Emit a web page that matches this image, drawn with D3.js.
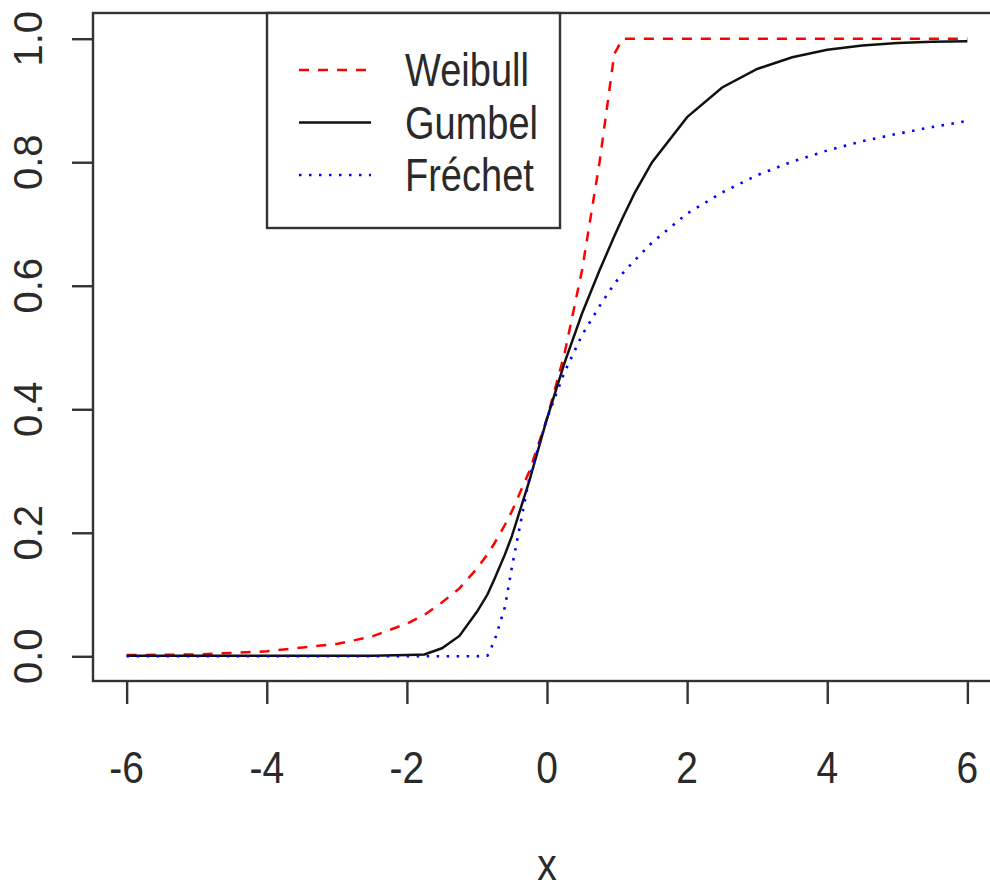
<!DOCTYPE html>
<html>
<head>
<meta charset="utf-8">
<script src="https://cdn.jsdelivr.net/npm/d3@7"></script>
<style>
  body { margin: 0; background: #fff; }
  text { font-family: "Liberation Sans", Arial, sans-serif; fill: #2a2a2a; }
</style>
</head>
<body>
<svg id="chart" width="990" height="892"></svg>
<script>
// values
var xs = [-6, -5, -4, -3, -2.5, -2, -1.75, -1.5, -1.25, -1, -0.85, -0.75, -0.6, -0.5, -0.25,
          0, 0.25, 0.5, 0.75, 0.96, 1.08, 1.25, 1.5, 2, 2.5, 3, 3.5, 4, 4.5, 5, 5.5, 6];

var weibull = [0.002, 0.003, 0.008, 0.02, 0.032, 0.053, 0.067, 0.087, 0.11, 0.142, 0.165, 0.183, 0.213, 0.235, 0.30,
               0.385, 0.49, 0.625, 0.80, 0.975, 1, 1, 1, 1, 1, 1, 1, 1, 1, 1, 1, 1];

var gumbel = [0.001, 0.001, 0.001, 0.001, 0.001, 0.002, 0.003, 0.013, 0.033, 0.072, 0.10, 0.125, 0.165, 0.195, 0.285,
              0.385, 0.475, 0.555, 0.625, 0.68, 0.71, 0.75, 0.80, 0.873, 0.921, 0.951, 0.97, 0.982, 0.989, 0.993, 0.995, 0.996];

var frechet = [0, 0, 0, 0, 0, 0, 0, 0, 0, 0, 0.001, 0.025, 0.08, 0.145, 0.29,
               0.385, 0.46, 0.52, 0.567, 0.603, 0.62, 0.641, 0.67, 0.717, 0.751, 0.779, 0.801, 0.819, 0.834, 0.846, 0.857, 0.867];

var seriesNames = ["Weibull", "Gumbel", "Fréchet"];
var xTicks = [-6, -4, -2, 0, 2, 4, 6];
var yTicks = [0, 0.2, 0.4, 0.6, 0.8, 1.0];
var xLabel = "x";

var svg = d3.select("#chart");

// plot region, R style (4% padding on data range)
var plotLeft = 93, plotRight = 1001, plotTop = 14, plotBottom = 681;

var x = d3.scaleLinear().domain([-6.48, 6.48]).range([plotLeft, plotRight]);
var y = d3.scaleLinear().domain([-0.04, 1.04]).range([plotBottom, plotTop]);

var styles = [
  { color: "#ff0000", dash: "10,9", width: 2.5 },
  { color: "#111111", dash: null, width: 2.5 },
  { color: "#0000ff", dash: "2.5,7.5", width: 2.6 }
];
var allSeries = [weibull, gumbel, frechet];

var line = d3.line()
  .x(function(d) { return x(d[0]); })
  .y(function(d) { return y(d[1]); });

allSeries.forEach(function(vals, i) {
  var pts = xs.map(function(v, j) { return [v, vals[j]]; });
  svg.append("path")
    .datum(pts)
    .attr("d", line)
    .attr("fill", "none")
    .attr("stroke", styles[i].color)
    .attr("stroke-width", styles[i].width)
    .attr("stroke-dasharray", styles[i].dash);
});

// box
svg.append("rect")
  .attr("x", plotLeft).attr("y", plotTop - 1)
  .attr("width", plotRight - plotLeft).attr("height", plotBottom - plotTop + 1)
  .attr("fill", "none")
  .attr("stroke", "#333")
  .attr("stroke-width", 2.4);

// x axis ticks
var xAxis = svg.append("g")
  .attr("transform", "translate(0," + plotBottom + ")")
  .call(d3.axisBottom(x).tickValues(xTicks).tickSize(23).tickSizeOuter(0).tickFormat(""));
xAxis.select(".domain").remove();
xAxis.selectAll(".tick line").attr("stroke", "#333").attr("stroke-width", 2.4);

svg.selectAll(".xlab")
  .data(xTicks)
  .enter()
  .append("text")
  .attr("class", "xlab")
  .attr("transform", function(d) { return "translate(" + x(d) + ",783) scale(1,1.12)"; })
  .attr("text-anchor", "middle")
  .attr("font-size", 39)
  .text(function(d) { return d; });

// y axis ticks
var yAxis = svg.append("g")
  .attr("transform", "translate(" + plotLeft + ",0)")
  .call(d3.axisLeft(y).tickValues(yTicks).tickSize(21).tickSizeOuter(0).tickFormat(""));
yAxis.select(".domain").remove();
yAxis.selectAll(".tick line").attr("stroke", "#333").attr("stroke-width", 2.4);

svg.selectAll(".ylab")
  .data(yTicks)
  .enter()
  .append("text")
  .attr("class", "ylab")
  .attr("transform", function(d) { return "translate(42," + y(d) + ") rotate(-90)"; })
  .attr("text-anchor", "middle")
  .attr("font-size", 40)
  .text(function(d) { return d3.format(".1f")(d); });

// axis title
svg.append("text")
  .attr("transform", "translate(" + x(0) + ",880) scale(1,1.12)")
  .attr("text-anchor", "middle")
  .attr("font-size", 39)
  .text(xLabel);

// legend
var legend = svg.append("g");
legend.append("rect")
  .attr("x", 267).attr("y", 13)
  .attr("width", 293).attr("height", 215)
  .attr("fill", "#fff")
  .attr("stroke", "#333")
  .attr("stroke-width", 2.4);

seriesNames.forEach(function(name, i) {
  var ry = 70 + i * 52.5;
  legend.append("line")
    .attr("x1", 299).attr("x2", 371)
    .attr("y1", ry).attr("y2", ry)
    .attr("stroke", styles[i].color)
    .attr("stroke-width", styles[i].width)
    .attr("stroke-dasharray", styles[i].dash);
  legend.append("text")
    .attr("transform", "translate(405," + (ry + 16) + ") scale(1,1.2)")
    .attr("font-size", 38)
    .text(name);
});
</script>
</body>
</html>
